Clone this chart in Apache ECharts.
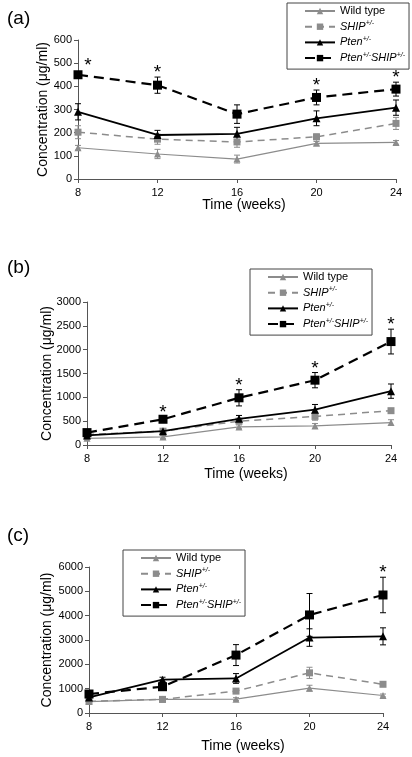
<!DOCTYPE html>
<html>
<head>
<meta charset="utf-8">
<script src="https://cdn.jsdelivr.net/npm/echarts@6/dist/echarts.min.js"></script>
<style>
html,body{margin:0;padding:0;background:#fff;}
#chart{width:412px;height:757px;}
</style>
</head>
<body>
<div id="chart"></div>
<script>
// ---- Data ----
const weeks = ['8', '12', '16', '20', '24'];
const seriesNames = ['Wild type', 'SHIP+/-', 'Pten+/-', 'Pten+/-SHIP+/-'];
const panelLabels = ['(a)', '(b)', '(c)'];

// Panel (a)
const aWild = [135, 108, 86, 154, 158];
const aWildErr = [10, 20, 17, 8, 8];
const aShip = [202, 172, 160, 182, 240];
const aShipErr = [28, 22, 23, 12, 26];
const aPten = [290, 190, 195, 262, 308];
const aPtenErr = [35, 20, 28, 32, 33];
const aDouble = [450, 405, 280, 352, 388];
const aDoubleErr = [10, 35, 40, 32, 30];
const aStars = [1, 1, 0, 1, 1];
const aTicks = [0, 600, 100];

// Panel (b)
const bWild = [140, 170, 380, 400, 470];
const bWildErr = [30, 30, 40, 50, 60];
const bShip = [220, 290, 500, 600, 720];
const bShipErr = [30, 30, 50, 80, 40];
const bPten = [200, 290, 550, 740, 1130];
const bPtenErr = [20, 30, 70, 110, 150];
const bDouble = [260, 540, 990, 1360, 2170];
const bDoubleErr = [30, 50, 170, 160, 260];
const bStars = [0, 1, 1, 1, 1];
const bTicks = [0, 3000, 500];

// Panel (c)
const cWild = [470, 560, 570, 1020, 720];
const cWildErr = [50, 60, 60, 120, 60];
const cShip = [480, 560, 900, 1650, 1180];
const cShipErr = [50, 60, 100, 230, 80];
const cPten = [640, 1370, 1420, 3100, 3150];
const cPtenErr = [80, 100, 200, 360, 350];
const cDouble = [780, 1080, 2380, 4030, 4850];
const cDoubleErr = [100, 100, 430, 880, 730];
const cStars = [0, 0, 0, 0, 1];
const cTicks = [0, 6000, 1000];

// ---- Layout / style ----
const FONT = 'Liberation Sans, Arial, Helvetica, sans-serif';
const panels = [
  { vals: [aWild, aShip, aPten, aDouble], errs: [aWildErr, aShipErr, aPtenErr, aDoubleErr], stars: aStars, ticks: aTicks,
    grid: { left: 78, top: 40, width: 318, height: 139 }, yNameGap: 28, xNameGap: 19,
    legend: { left: 287, top: 3 }, label: { left: 2, top: 4 } },
  { vals: [bWild, bShip, bPten, bDouble], errs: [bWildErr, bShipErr, bPtenErr, bDoubleErr], stars: bStars, ticks: bTicks,
    grid: { left: 87, top: 302, width: 304, height: 143 }, yNameGap: 33, xNameGap: 22,
    legend: { left: 250, top: 269 }, label: { left: 2, top: 253 } },
  { vals: [cWild, cShip, cPten, cDouble], errs: [cWildErr, cShipErr, cPtenErr, cDoubleErr], stars: cStars, ticks: cTicks,
    grid: { left: 89, top: 567, width: 294, height: 146 }, yNameGap: 35, xNameGap: 26,
    legend: { left: 123, top: 550 }, label: { left: 2, top: 521 } }
];
const styles = [
  { color: '#8c8c8c', width: 1.2, type: 'solid', symbol: 'triangle', size: 7 },
  { color: '#8c8c8c', width: 1.5, type: [7, 5], symbol: 'rect', size: 7 },
  { color: '#000000', width: 1.8, type: 'solid', symbol: 'triangle', size: 8 },
  { color: '#000000', width: 2.2, type: [10, 6], symbol: 'rect', size: 9 }
];

const legendFormat = {
  'Wild type': 'Wild type',
  'SHIP+/-': '{i|SHIP}{s|+/-}',
  'Pten+/-': '{i|Pten}{s|+/-}',
  'Pten+/-SHIP+/-': '{i|Pten}{s|+/-}{i|SHIP}{s|+/-}'
};

const option = {
  animation: false,
  backgroundColor: '#fff',
  textStyle: { fontFamily: FONT },
  title: [], grid: [], xAxis: [], yAxis: [], legend: [], series: []
};

panels.forEach((p, pi) => {
  option.title.push({ text: panelLabels[pi], left: p.label.left, top: p.label.top,
    textStyle: { fontFamily: FONT, fontSize: 19, fontWeight: 'normal', color: '#000' } });
  option.grid.push(Object.assign({ containLabel: false }, p.grid));
  option.xAxis.push({
    type: 'category', gridIndex: pi, data: weeks, boundaryGap: false,
    name: 'Time (weeks)', nameLocation: 'middle', nameGap: p.xNameGap, nameMoveOverlap: false,
    nameTextStyle: { fontFamily: FONT, fontSize: 14, color: '#000', padding: [0, 0, 0, 14] },
    axisLine: { show: true, lineStyle: { color: '#555', width: 1 } },
    axisTick: { show: true, inside: false, length: 4, alignWithLabel: true, lineStyle: { color: '#555' } },
    axisLabel: { fontFamily: FONT, fontSize: 11, color: '#000', margin: 8 },
    splitLine: { show: false }
  });
  option.yAxis.push({
    type: 'value', gridIndex: pi, min: p.ticks[0], max: p.ticks[1], interval: p.ticks[2],
    name: 'Concentration (\u03bcg/ml)', nameLocation: 'middle', nameGap: p.yNameGap, nameMoveOverlap: false,
    nameTextStyle: { fontFamily: FONT, fontSize: 14, color: '#000' },
    axisLine: { show: true, lineStyle: { color: '#555', width: 1 } },
    axisTick: { show: true, inside: false, length: 4, lineStyle: { color: '#555' } },
    axisLabel: { fontFamily: FONT, fontSize: 11, color: '#000', margin: 6, formatter: v => String(v) },
    splitLine: { show: false }
  });
  option.legend.push({
    orient: 'vertical', left: p.legend.left, top: p.legend.top,
    data: seriesNames, selectedMode: false,
    borderColor: '#444', borderWidth: 1, backgroundColor: '#fff',
    padding: [1, 4, 4, 17], itemGap: 1.7, itemWidth: 30, itemHeight: 8,
    formatter: name => legendFormat[name],
    textStyle: {
      fontFamily: FONT, fontSize: 11, color: '#000', lineHeight: 14,
      rich: {
        i: { fontFamily: FONT, fontSize: 11, fontStyle: 'italic', color: '#000', lineHeight: 14 },
        s: { fontFamily: FONT, fontSize: 7, fontStyle: 'italic', color: '#000', lineHeight: 14, verticalAlign: 'top', padding: [0, 0, 6, 0] }
      }
    }
  });

  p.vals.forEach((v, si) => {
    const st = styles[si];
    // error bars
    option.series.push({
      type: 'custom', xAxisIndex: pi, yAxisIndex: pi, silent: true, z: 1,
      data: v.map((val, i) => [i, val - p.errs[si][i], val + p.errs[si][i]]),
      renderItem: (params, api) => {
        const x = api.value(0);
        const top = api.coord([x, api.value(2)]);
        const bot = api.coord([x, api.value(1)]);
        const w = 3;
        const ls = { stroke: st.color, lineWidth: 1 };
        return { type: 'group', children: [
          { type: 'line', shape: { x1: top[0], y1: top[1], x2: bot[0], y2: bot[1] }, style: ls },
          { type: 'line', shape: { x1: top[0] - w, y1: top[1], x2: top[0] + w, y2: top[1] }, style: ls },
          { type: 'line', shape: { x1: bot[0] - w, y1: bot[1], x2: bot[0] + w, y2: bot[1] }, style: ls }
        ] };
      }
    });
    option.series.push({
      type: 'line', name: seriesNames[si], xAxisIndex: pi, yAxisIndex: pi, z: 2 + si,
      data: v, symbol: st.symbol, symbolSize: st.size, showAllSymbol: true,
      itemStyle: { color: st.color },
      lineStyle: { color: st.color, width: st.width, type: st.type }
    });
  });

  // significance asterisks above the double-mutant series
  const dv = p.vals[3], de = p.errs[3];
  option.series.push({
    type: 'custom', xAxisIndex: pi, yAxisIndex: pi, silent: true, z: 10,
    data: p.stars.map((s, i) => s ? [i, dv[i] + de[i]] : null).filter(d => d),
    renderItem: (params, api) => {
      const idx = api.value(0);
      const c = api.coord([idx, api.value(1)]);
      const dx = idx === 0 ? 10 : 0;
      const dy = idx === 0 ? -7 : -4;
      return { type: 'text', x: c[0] + dx, y: c[1] + dy,
        style: { text: '*', fontFamily: FONT, fontSize: 19, fill: '#000',
          align: 'center', verticalAlign: 'middle', textAlign: 'center', textVerticalAlign: 'middle' } };
    }
  });
});

const chart = echarts.init(document.getElementById('chart'), null, { renderer: 'canvas' });
chart.setOption(option);
</script>
</body>
</html>
